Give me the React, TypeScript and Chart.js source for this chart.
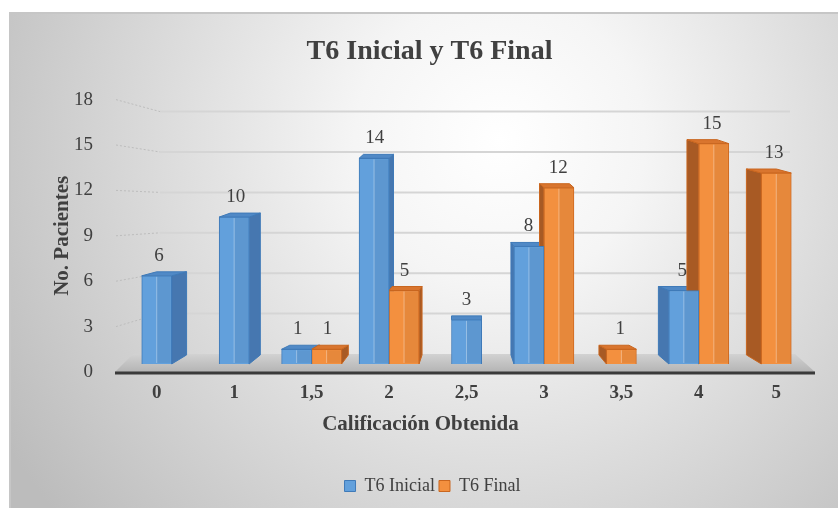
import { useEffect, useRef } from "react";
import { Chart, registerables } from "chart.js";

Chart.register(...registerables);

// Score categories and patient counts per evaluation
const categories = ["0", "1", "1,5", "2", "2,5", "3", "3,5", "4", "5"];
const t6Inicial: (number | null)[] = [6, 10, 1, 14, 3, 8, null, 5, null];
const t6Final: (number | null)[] = [null, null, 1, 5, null, 12, 1, 15, 13];
const yTickValues = [0, 3, 6, 9, 12, 15, 18];

const SERIF = '"Liberation Serif", "Times New Roman", serif';
const TEXT = "#404040";

const faceColors = [
  { front: "#62a0dc", border: "#3f7ab8", side: "#4677b0", top: "#5089c6" },
  { front: "#f3903f", border: "#c9661f", side: "#a85a24", top: "#d9752e" },
];

// horizontal depth of a column's side face, growing away from the view centre
function barDepth(chart: any, x: number) {
  const a = chart.chartArea;
  const vanish = (a.left + a.right) / 2;
  return (vanish - x) * 0.048;
}

const panelPlugin = {
  id: "panel",
  beforeDraw(chart: any) {
    const { ctx, width, height } = chart;
    ctx.save();
    ctx.fillStyle = "#ffffff";
    ctx.fillRect(0, 0, width, height);
    const g = ctx.createRadialGradient(500, 140, 0, 500, 140, 580);
    g.addColorStop(0, "#ffffff");
    g.addColorStop(0.25, "#f5f5f5");
    g.addColorStop(1, "#bcbcbc");
    ctx.fillStyle = g;
    ctx.fillRect(10, 13, width - 10, height - 13);
    ctx.strokeStyle = "#c6c6c6";
    ctx.lineWidth = 2;
    ctx.beginPath();
    ctx.moveTo(10, height);
    ctx.lineTo(10, 13);
    ctx.lineTo(width, 13);
    ctx.stroke();
    ctx.restore();
  },
};

// the panel is wider than the visible frame: nudge the centred texts
const textShiftPlugin = {
  id: "textShift",
  afterLayout(chart: any) {
    const shift = (box: any, d: number) => {
      if (!box) return;
      box.left += d;
      box.right += d;
    };
    shift(chart.titleBlock, 17);
    shift(chart.legend, 20);
    shift(chart.scales.x, -46);
  },
};

const stagePlugin = {
  id: "stage",
  beforeDatasetsDraw(chart: any) {
    const { ctx, chartArea: a } = chart;
    const ys = chart.scales.y;
    const maxV = yTickValues[yTickValues.length - 1];
    const y0 = ys.getPixelForValue(0);
    const yTop = ys.getPixelForValue(maxV);
    const backY0 = y0 - 18;
    const backTop = yTop + 12;
    const k = (backY0 - backTop) / (y0 - yTop);
    const backY = (v: number) => backY0 - (y0 - ys.getPixelForValue(v)) * k;
    const wallL = a.left + 42;
    const wallR = a.right - 25;

    ctx.save();
    // floor
    const fg = ctx.createLinearGradient(0, backY0, 0, y0);
    fg.addColorStop(0, "#d2d2d2");
    fg.addColorStop(1, "#b4b4b4");
    ctx.fillStyle = fg;
    ctx.beginPath();
    ctx.moveTo(a.left - 3, y0);
    ctx.lineTo(a.right, y0);
    ctx.lineTo(wallR + 5, backY0);
    ctx.lineTo(a.left + 15, backY0);
    ctx.closePath();
    ctx.fill();

    // back wall grid lines with their dotted leaders
    yTickValues
      .filter((v) => v > 0)
      .forEach((v) => {
        const fy = ys.getPixelForValue(v);
        const by = backY(v);
        ctx.setLineDash([]);
        ctx.strokeStyle = "#d5d5d5";
        ctx.lineWidth = 2;
        ctx.beginPath();
        ctx.moveTo(wallL, by);
        ctx.lineTo(wallR, by);
        ctx.stroke();
        ctx.setLineDash([2, 2]);
        ctx.strokeStyle = "#bdbdbd";
        ctx.lineWidth = 1;
        ctx.beginPath();
        ctx.moveTo(a.left - 2, fy);
        ctx.lineTo(wallL, by);
        ctx.stroke();
      });
    ctx.setLineDash([]);

    // side and top faces of the columns
    chart.data.datasets.forEach((ds: any, di: number) => {
      const meta = chart.getDatasetMeta(di);
      const c = faceColors[di];
      meta.data.forEach((el: any, i: number) => {
        if (ds.data[i] == null) return;
        const { x, y, base, width } = el.getProps(["x", "y", "base", "width"], true);
        const dx = barDepth(chart, x);
        const l = x - width / 2;
        const r = x + width / 2;
        const edge = dx >= 0 ? r : l;
        ctx.lineWidth = 1;
        ctx.strokeStyle = c.border;
        ctx.fillStyle = c.side;
        ctx.beginPath();
        ctx.moveTo(edge, y);
        ctx.lineTo(edge + dx, y - 4);
        ctx.lineTo(edge + dx, base - 9);
        ctx.lineTo(edge, base);
        ctx.closePath();
        ctx.fill();
        ctx.stroke();
        ctx.fillStyle = c.top;
        ctx.beginPath();
        ctx.moveTo(l, y);
        ctx.lineTo(l + dx, y - 4);
        ctx.lineTo(r + dx, y - 4);
        ctx.lineTo(r, y);
        ctx.closePath();
        ctx.fill();
        ctx.stroke();
      });
    });

    // front edge of the floor
    ctx.strokeStyle = "#3a3a3a";
    ctx.lineWidth = 3;
    ctx.beginPath();
    ctx.moveTo(a.left - 3, y0 + 1);
    ctx.lineTo(a.right, y0 + 1);
    ctx.stroke();
    ctx.restore();
  },
};

const labelPlugin = {
  id: "valueLabels",
  afterDatasetsDraw(chart: any) {
    const { ctx } = chart;
    ctx.save();
    chart.data.datasets.forEach((ds: any, di: number) => {
      const meta = chart.getDatasetMeta(di);
      meta.data.forEach((el: any, i: number) => {
        const v = ds.data[i];
        if (v == null) return;
        const { x, y, base, width } = el.getProps(["x", "y", "base", "width"], true);
        // soft shading on the right half of the front face
        ctx.fillStyle = "rgba(0,0,0,0.05)";
        ctx.fillRect(x, y + 1, width / 2 - 1, base - y - 2);
        ctx.strokeStyle = "rgba(255,255,255,0.35)";
        ctx.lineWidth = 1;
        ctx.beginPath();
        ctx.moveTo(x, y + 1);
        ctx.lineTo(x, base - 1);
        ctx.stroke();

        const dx = barDepth(chart, x);
        ctx.fillStyle = TEXT;
        ctx.font = `19px ${SERIF}`;
        ctx.textAlign = "center";
        ctx.textBaseline = "alphabetic";
        ctx.fillText(String(v), x + dx * 0.15, y - 15);
      });
    });
    ctx.restore();
  },
};

export default function App() {
  const ref = useRef<HTMLCanvasElement>(null);

  useEffect(() => {
    const chart = new Chart(ref.current as HTMLCanvasElement, {
      type: "bar",
      data: {
        labels: categories,
        datasets: [
          {
            label: "T6 Inicial",
            data: t6Inicial,
            backgroundColor: faceColors[0].front,
            borderColor: faceColors[0].border,
            borderWidth: 1,
            yAxisID: "yb",
            clip: false,
          },
          {
            label: "T6 Final",
            data: t6Final,
            backgroundColor: faceColors[1].front,
            borderColor: faceColors[1].border,
            borderWidth: 1,
            yAxisID: "yb",
            clip: false,
          },
        ],
      },
      options: {
        responsive: false,
        animation: false,
        events: [],
        skipNull: true,
        barThickness: 30,
        layout: { padding: { top: 13, left: 10, right: 23, bottom: 3 } },
        scales: {
          x: {
            offset: true,
            grid: { display: false },
            border: { display: false },
            ticks: {
              padding: 2,
              color: TEXT,
              font: { family: SERIF, size: 19, weight: "bold" },
            },
            title: {
              display: true,
              text: "Calificación Obtenida",
              color: TEXT,
              font: { family: SERIF, size: 21, weight: "bold" },
              padding: { top: 4, bottom: 36 },
            },
            afterFit: (s: any) => {
              s.height = 101;
            },
          },
          y: {
            min: 0,
            max: 18,
            grid: { display: false },
            border: { display: false },
            afterBuildTicks: (s: any) => {
              s.ticks = yTickValues.map((v) => ({ value: v }));
            },
            ticks: {
              padding: 17,
              color: TEXT,
              font: { family: SERIF, size: 19 },
            },
            title: {
              display: true,
              text: "No. Pacientes",
              color: TEXT,
              font: { family: SERIF, size: 21, weight: "bold" },
              padding: { top: 40, bottom: 0 },
            },
            afterFit: (s: any) => {
              s.width = 108;
            },
          },
          yb: {
            display: false,
            min: -0.55,
            max: 18,
          },
        },
        plugins: {
          tooltip: { enabled: false },
          title: {
            display: true,
            text: "T6 Inicial y T6 Final",
            color: TEXT,
            font: { family: SERIF, size: 28, weight: "bold" },
            padding: { top: 22, bottom: 31 },
          },
          legend: {
            position: "bottom",
            labels: {
              boxWidth: 11,
              boxHeight: 11,
              padding: 4,
              color: TEXT,
              font: { family: SERIF, size: 18 },
            },
          },
        },
      } as any,
      plugins: [panelPlugin, textShiftPlugin, stagePlugin, labelPlugin],
    });
    return () => chart.destroy();
  }, []);

  return (
    <div style={{ position: "absolute", left: 0, top: 0, width: 838, height: 508 }}>
      <canvas
        ref={ref}
        width={838}
        height={508}
        style={{ display: "block", width: 838, height: 508 }}
      />
    </div>
  );
}
